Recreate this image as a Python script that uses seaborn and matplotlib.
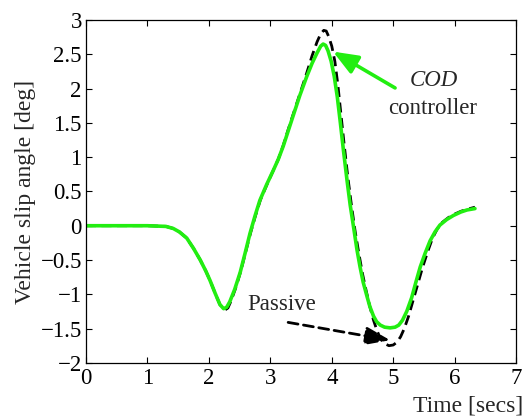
import matplotlib
matplotlib.use("Agg")
import matplotlib.pyplot as plt
import seaborn as sns
import pandas as pd

# ---- data ----
t_cod = [0.0, 0.5, 1.0, 1.3, 1.42, 1.52, 1.64, 1.75, 1.86, 1.95, 2.02, 2.10, 2.18, 2.24,
         2.29, 2.34, 2.42, 2.51, 2.59, 2.67, 2.75, 2.83, 2.94, 3.05, 3.13, 3.21, 3.29,
         3.37, 3.48, 3.59, 3.68, 3.76, 3.82, 3.86, 3.90, 3.94, 3.99, 4.04, 4.09, 4.14,
         4.19, 4.25, 4.30, 4.36, 4.41, 4.46, 4.51, 4.57, 4.62, 4.68, 4.73, 4.79, 4.86,
         4.95, 5.03, 5.09, 5.15, 5.22, 5.30, 5.37, 5.44, 5.52, 5.60, 5.68, 5.76, 5.87,
         5.98, 6.10, 6.20, 6.33]
y_cod = [0.0, 0.0, 0.0, -0.01, -0.04, -0.09, -0.18, -0.33, -0.50, -0.66, -0.80, -0.98,
         -1.15, -1.21, -1.19, -1.11, -0.93, -0.68, -0.40, -0.11, 0.14, 0.37, 0.60, 0.81,
         0.97, 1.16, 1.38, 1.60, 1.90, 2.17, 2.37, 2.52, 2.62, 2.65, 2.63, 2.55, 2.40,
         2.18, 1.88, 1.50, 1.10, 0.65, 0.30, -0.05, -0.35, -0.60, -0.82, -1.02, -1.18,
         -1.32, -1.40, -1.45, -1.48, -1.49, -1.48, -1.45, -1.38, -1.25, -1.05, -0.82,
         -0.60, -0.40, -0.22, -0.09, 0.01, 0.09, 0.15, 0.20, 0.23, 0.25]

t_passive = [0.0, 0.5, 1.0, 1.3, 1.42, 1.52, 1.64, 1.75, 1.86, 1.95, 2.02, 2.10, 2.18,
             2.26, 2.31, 2.36, 2.44, 2.52, 2.60, 2.68, 2.76, 2.84, 2.95, 3.05, 3.13,
             3.21, 3.29, 3.37, 3.48, 3.59, 3.68, 3.76, 3.82, 3.87, 3.91, 3.95, 4.00,
             4.05, 4.10, 4.15, 4.20, 4.26, 4.32, 4.38, 4.44, 4.50, 4.56, 4.62, 4.68,
             4.74, 4.80, 4.86, 4.93, 5.00, 5.06, 5.12, 5.18, 5.25, 5.32, 5.40, 5.48,
             5.56, 5.64, 5.72, 5.80, 5.90, 6.00, 6.10, 6.20, 6.33]
y_passive = [0.0, 0.0, 0.0, -0.01, -0.04, -0.09, -0.18, -0.33, -0.50, -0.66, -0.80,
             -0.98, -1.15, -1.23, -1.20, -1.10, -0.90, -0.66, -0.38, -0.10, 0.15, 0.38,
             0.61, 0.81, 0.97, 1.17, 1.40, 1.62, 1.92, 2.22, 2.48, 2.68, 2.80, 2.85,
             2.84, 2.76, 2.62, 2.40, 2.05, 1.62, 1.20, 0.72, 0.30, -0.08, -0.40, -0.70,
             -0.95, -1.18, -1.38, -1.54, -1.66, -1.72, -1.75, -1.74, -1.70, -1.62,
             -1.50, -1.32, -1.10, -0.85, -0.60, -0.38, -0.18, -0.04, 0.05, 0.12, 0.17,
             0.21, 0.24, 0.27]

x_ticks = [0, 1, 2, 3, 4, 5, 6, 7]
y_ticks = [-2, -1.5, -1, -0.5, 0, 0.5, 1, 1.5, 2, 2.5, 3]
y_ticklabels = ["\u22122", "\u22121.5", "\u22121", "\u22120.5", "0", "0.5", "1", "1.5", "2", "2.5", "3"]

sns.set_style("ticks")
plt.rcParams["font.family"] = ["Liberation Serif", "DejaVu Serif"]

GREEN = "#22ee11"
FS = 16.5

df_cod = pd.DataFrame({"t": t_cod, "y": y_cod})
df_pas = pd.DataFrame({"t": t_passive, "y": y_passive})

fig = plt.figure(figsize=(5.24, 4.18), dpi=100)
ax = fig.add_axes([0.164, 0.132, 0.821, 0.820])

sns.lineplot(data=df_pas, x="t", y="y", ax=ax, color="black", lw=2.0,
             linestyle=(0, (3.6, 2.0)), sort=False, estimator=None)
sns.lineplot(data=df_cod, x="t", y="y", ax=ax, color=GREEN, lw=2.6,
             sort=False, estimator=None)

ax.set_xlim(0, 7)
ax.set_ylim(-2, 3)
ax.set_xticks(x_ticks)
ax.set_xticklabels([str(v) for v in x_ticks])
ax.set_yticks(y_ticks)
ax.set_yticklabels(y_ticklabels)
ax.tick_params(direction="in", top=True, right=True, length=4.5, width=0.8,
               labelsize=FS, colors="black")
ax.tick_params(axis="x", pad=4)
ax.tick_params(axis="y", pad=3)
for s in ax.spines.values():
    s.set_visible(True)
    s.set_linewidth(0.9)
    s.set_color("black")

ax.set_xlabel("Time [secs]", fontsize=FS + 0.5, ha="right", va="center")
ax.xaxis.set_label_coords(1.016, -0.125)
ax.set_ylabel("Vehicle slip angle [deg]", fontsize=FS + 0.5, labelpad=3)

# annotations
ax.annotate("", xy=(4.02, 2.54), xytext=(5.03, 2.01),
            arrowprops=dict(arrowstyle="-|>,head_length=1.5,head_width=0.6",
                            color=GREEN, lw=2.6, shrinkA=0, shrinkB=0))
ax.text(5.66, 2.12, "COD", fontsize=FS, style="italic", ha="center", va="center")
ax.text(5.64, 1.71, "controller", fontsize=FS, ha="center", va="center")

ax.text(3.19, -1.15, "Passive", fontsize=FS, ha="center", va="center")
ax.annotate("", xy=(4.95, -1.67), xytext=(3.29, -1.41),
            arrowprops=dict(arrowstyle="-|>,head_length=1.5,head_width=0.55",
                            color="black", lw=2.0, linestyle=(0, (3.6, 2.0)),
                            shrinkA=0, shrinkB=0))

fig.savefig("out.png", dpi=100)
